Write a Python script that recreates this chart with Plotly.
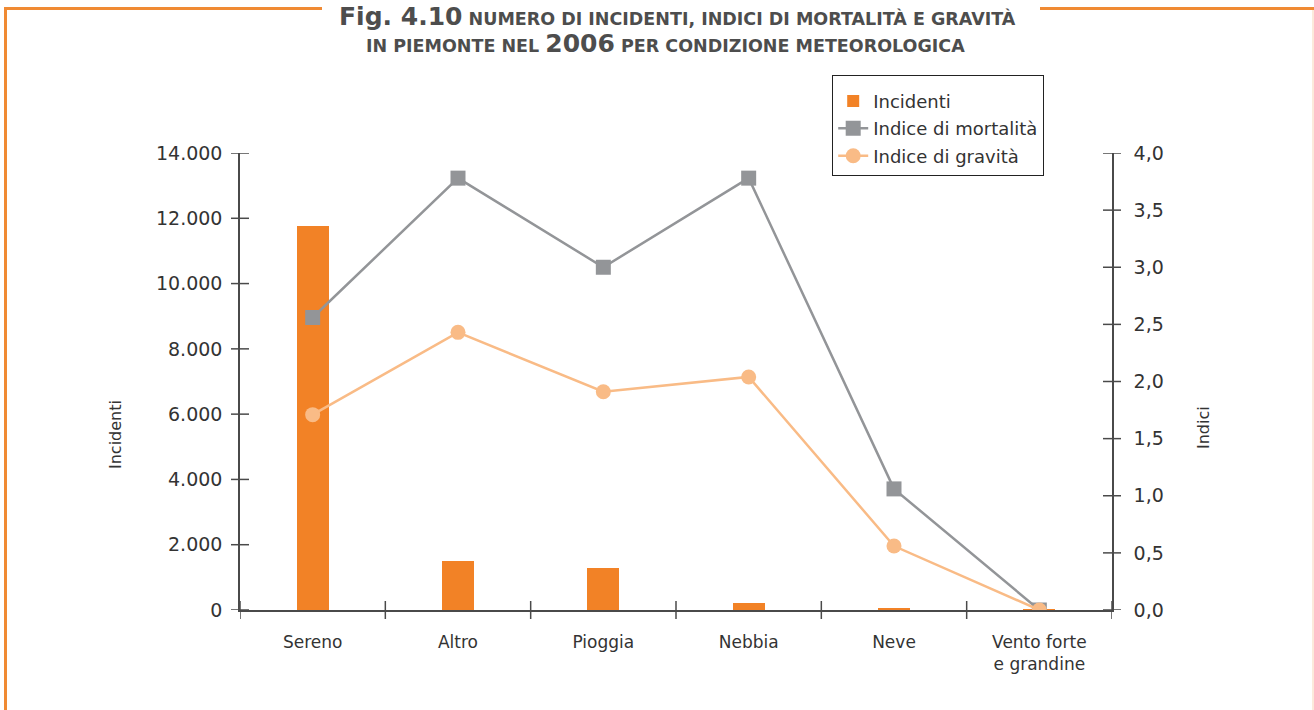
import plotly.graph_objects as go

# Weather conditions and values (Piemonte, 2006)
categorie = ["Sereno", "Altro", "Pioggia", "Nebbia", "Neve", "Vento forte<br>e grandine"]
incidenti = [11770, 1500, 1290, 215, 60, 5]
indice_mortalita = [2.56, 3.78, 3.0, 3.78, 1.06, 0.0]
indice_gravita = [1.71, 2.43, 1.91, 2.04, 0.56, 0.0]

y_left_ticks = [0, 2000, 4000, 6000, 8000, 10000, 12000, 14000]
y_right_ticks = [0, 0.5, 1.0, 1.5, 2.0, 2.5, 3.0, 3.5, 4.0]

W, H = 1314, 710
L, R, T, B = 240, 1112, 153, 610  # plot area in pixels

FONT = "DejaVu Sans"
ORANGE = "#F28226"
GREY = "#939598"
PEACH = "#F9BB86"
AXIS = "#4a4a4a"
TEXT = "#333333"
HALF_TICK = 9  # each tick crosses its axis line, this many px on each side


def px(xp):
    return (xp - L) / (R - L)


def py(yp):
    return (B - yp) / (B - T)


fig = go.Figure()

fig.add_trace(go.Bar(
    x=list(range(len(categorie))), y=incidenti, name="Incidenti",
    legendgroup="a",
    marker=dict(color=ORANGE, line=dict(width=0)), width=0.22,
))
fig.add_trace(go.Scatter(
    x=list(range(len(categorie))), y=indice_mortalita, name="Indice di mortalità",
    legendgroup="b", yaxis="y2", mode="lines+markers",
    line=dict(color=GREY, width=2.5),
    marker=dict(symbol="square", size=15, color=GREY),
))
fig.add_trace(go.Scatter(
    x=list(range(len(categorie))), y=indice_gravita, name="Indice di gravità",
    legendgroup="c", yaxis="y2", mode="lines+markers",
    line=dict(color=PEACH, width=2.5),
    marker=dict(symbol="circle", size=15, color=PEACH),
))

n = len(categorie)
boundaries = [i - 0.5 for i in range(n + 1)]

axis_common = dict(showgrid=False, zeroline=False, showline=True,
                   linecolor=AXIS, linewidth=1.5, ticks="")

fig.update_layout(
    width=W, height=H,
    margin=dict(l=L, r=W - R, t=T, b=H - B),
    paper_bgcolor="white", plot_bgcolor="white",
    separators=",.",
    font=dict(family=FONT, size=17, color=TEXT),
    bargap=0,
    showlegend=True,
    legend=dict(
        x=px(832), y=py(75), xanchor="left", yanchor="top",
        bordercolor="#222222", borderwidth=1.2, bgcolor="white",
        font=dict(family=FONT, size=18, color=TEXT),
        title=dict(text=" ", font=dict(size=5)),
        tracegroupgap=1, itemwidth=30,
    ),
    xaxis=dict(
        **axis_common, range=[-0.5, n - 0.5],
        tickmode="array", tickvals=list(range(n)), ticktext=categorie,
        tickfont=dict(size=17, color=TEXT), ticklabelstandoff=16,
    ),
    yaxis=dict(
        **axis_common, range=[0, 14000], tickmode="array",
        tickvals=y_left_ticks, tickformat=",d",
        tickfont=dict(size=19, color=TEXT), ticklabelstandoff=12,
    ),
    yaxis2=dict(
        **axis_common, overlaying="y", anchor="x", side="right",
        range=[0, 4], tickmode="array", tickvals=y_right_ticks,
        tickformat=".1f",
        tickfont=dict(size=19, color=TEXT), ticklabelstandoff=16,
    ),
)

# Crossing tick marks, placed through the axes' own scales
tick_line = dict(color=AXIS, width=1.5)
for v in y_left_ticks:
    fig.add_shape(type="line", xref="paper", yref="y",
                  x0=px(L - HALF_TICK), x1=px(L + HALF_TICK), y0=v, y1=v,
                  line=tick_line, layer="above")
for v in y_right_ticks:
    fig.add_shape(type="line", xref="paper", yref="y2",
                  x0=px(R - HALF_TICK), x1=px(R + HALF_TICK), y0=v, y1=v,
                  line=tick_line, layer="above")
for v in boundaries:
    fig.add_shape(type="line", xref="x", yref="paper",
                  x0=v, x1=v, y0=py(B - HALF_TICK), y1=py(B + HALF_TICK),
                  line=tick_line, layer="above")

# Axis titles
fig.add_annotation(text="Incidenti", xref="paper", yref="paper",
                   x=px(115), y=py(435), xanchor="center", yanchor="middle",
                   textangle=-90, showarrow=False,
                   font=dict(size=16, color=TEXT))
fig.add_annotation(text="Indici", xref="paper", yref="paper",
                   x=px(1203), y=py(428), xanchor="center", yanchor="middle",
                   textangle=-90, showarrow=False,
                   font=dict(size=16, color=TEXT))

# Figure heading
TITLE_FONT = "DejaVu Sans"
fig.add_annotation(
    text="<b><span style='font-size:25px'>Fig. 4.10</span> NUMERO DI INCIDENTI, INDICI DI MORTALITÀ E GRAVITÀ</b>",
    xref="paper", yref="paper", x=px(677), y=py(0),
    xanchor="center", yanchor="top", showarrow=False,
    font=dict(family=TITLE_FONT, size=17.5, color="#4d4d4d"),
)
fig.add_annotation(
    text="<b>IN PIEMONTE NEL <span style='font-size:25px'>2006</span> PER CONDIZIONE METEOROLOGICA</b>",
    xref="paper", yref="paper", x=px(665), y=py(43),
    xanchor="center", yanchor="middle", showarrow=False,
    font=dict(family=TITLE_FONT, size=17.5, color="#4d4d4d"),
)

# Orange frame around the figure
frame = dict(color="#F08A33", width=3)
fig.add_shape(type="line", xref="paper", yref="paper",
              x0=px(4), x1=px(322), y0=py(8.5), y1=py(8.5), line=frame)
fig.add_shape(type="line", xref="paper", yref="paper",
              x0=px(1040), x1=px(1314), y0=py(8.5), y1=py(8.5), line=frame)
fig.add_shape(type="line", xref="paper", yref="paper",
              x0=px(5.5), x1=px(5.5), y0=py(7), y1=py(712), line=frame)
fig.add_shape(type="line", xref="paper", yref="paper",
              x0=px(1313), x1=px(1313), y0=py(10), y1=py(712),
              line=dict(color="#F9D5B8", width=1))

fig.write_html("out.html")
